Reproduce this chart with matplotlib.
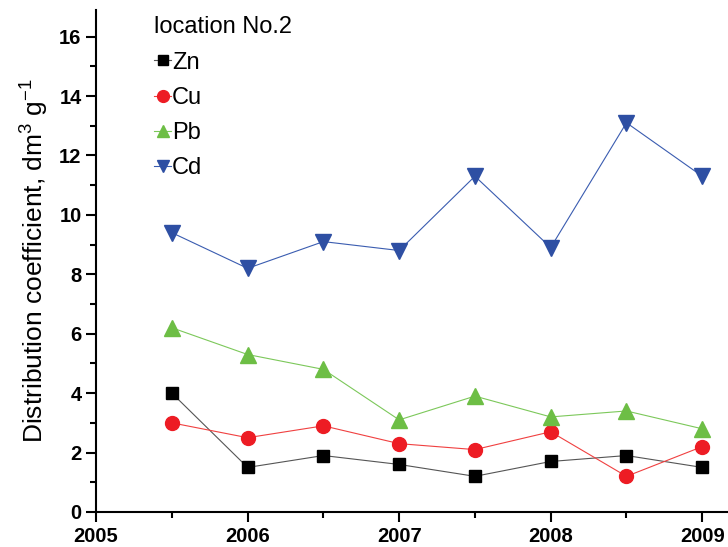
import numpy as np
import matplotlib.pyplot as plt
from matplotlib.ticker import MultipleLocator

plt.rcParams['font.family'] = ['Liberation Sans', 'DejaVu Sans']
plt.rcParams['mathtext.default'] = 'regular'

# data
years = [2005.5, 2006, 2006.5, 2007, 2007.5, 2008, 2008.5, 2009]
zn = [4.0, 1.5, 1.9, 1.6, 1.2, 1.7, 1.9, 1.5]
cu = [3.0, 2.5, 2.9, 2.3, 2.1, 2.7, 1.2, 2.2]
pb = [6.2, 5.3, 4.8, 3.1, 3.9, 3.2, 3.4, 2.8]
cd = [9.4, 8.2, 9.1, 8.8, 11.3, 8.9, 13.1, 11.3]

fig = plt.figure(figsize=(7.28, 5.47), dpi=100)
ax = fig.add_axes([0.132, 0.064, 0.868, 0.918])

ax.plot(years, zn, color='#555555', lw=0.8, marker='s', ms=9,
        mfc='black', mec='black', label='Zn')
ax.plot(years, cu, color='#f04040', lw=0.8, marker='o', ms=10,
        mfc='#ed1c24', mec='#ed1c24', label='Cu')
ax.plot(years, pb, color='#7cc85a', lw=0.8, marker='^', ms=11,
        mfc='#6dbe45', mec='#6dbe45', label='Pb')
ax.plot(years, cd, color='#3a5cb0', lw=0.8, marker='v', ms=11,
        mfc='#2e4fa3', mec='#2e4fa3', label='Cd')

ax.set_xlim(2005, 2009.17)
ax.set_ylim(0, 16.9)
ax.xaxis.set_major_locator(MultipleLocator(1))
ax.xaxis.set_minor_locator(MultipleLocator(0.5))
ax.yaxis.set_major_locator(MultipleLocator(2))
ax.yaxis.set_minor_locator(MultipleLocator(1))
ax.tick_params(which='major', length=7, width=1.5, direction='out')
ax.tick_params(which='minor', length=4, width=1.5, direction='out')
for lbl in ax.get_xticklabels() + ax.get_yticklabels():
    lbl.set_fontweight('bold')
    lbl.set_fontsize(14.5)
ax.spines['top'].set_visible(False)
ax.spines['right'].set_visible(False)
ax.spines['left'].set_linewidth(1.5)
ax.spines['bottom'].set_linewidth(1.5)

ax.set_ylabel('Distribution coefficient, dm$^3$ g$^{-1}$', fontsize=19, labelpad=6)

leg = ax.legend(loc='upper left', bbox_to_anchor=(0.07, 1.015), frameon=False,
                title='location No.2', fontsize=17, title_fontsize=17,
                handlelength=0.7, handletextpad=0.05, labelspacing=0.56,
                markerscale=0.85, borderpad=0.1)
leg._legend_box.align = 'left'

fig.savefig('out.png', dpi=100)
